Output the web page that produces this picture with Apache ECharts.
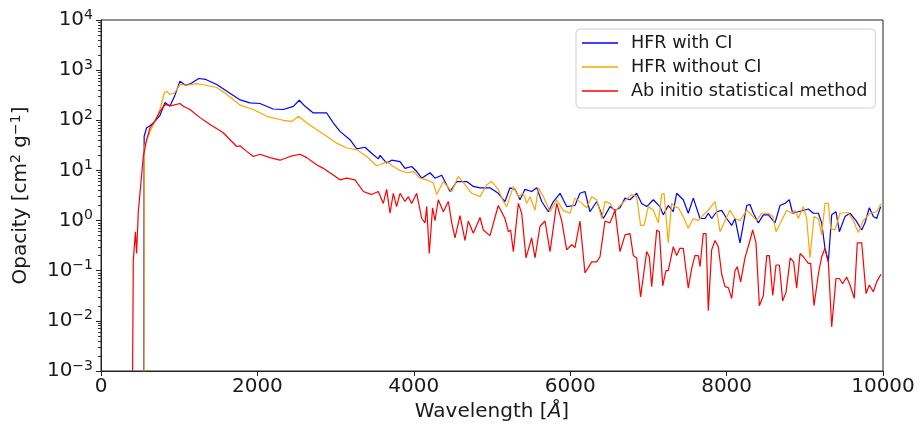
<!DOCTYPE html>
<html><head><meta charset="utf-8">
<script src="https://cdn.jsdelivr.net/npm/echarts@6/dist/echarts.min.js"></script>
<style>html,body{margin:0;padding:0;background:#fff}#c{width:921px;height:438px}</style>
</head><body><div id="c"></div>
<script>
// ---- data (wavelength in Angstrom, opacity in cm^2/g) ----
const blueX = [545,552,584,627,690,754,818,840,880,940,1010,1035,1080,1150,1250,1340,1480,1610,1780,1905,2033,2200,2330,2460,2535,2610,2715,2886,2970,3056,3184,3270,3376,3460,3546,3568,3653,3717,3824,3887,3973,4037,4101,4207,4271,4357,4463,4549,4677,4761,4847,4974,5080,5166,5230,5294,5358,5422,5507,5572,5636,5720,5785,5870,5955,6061,6125,6189,6253,6339,6424,6509,6573,6637,6701,6765,6850,6914,6978,7063,7148,7190,7254,7318,7361,7446,7510,7574,7660,7724,7766,7809,7873,7937,8001,8065,8107,8171,8257,8299,8342,8406,8470,8534,8619,8683,8747,8802,8845,8917,8981,9045,9109,9173,9216,9258,9301,9344,9399,9442,9514,9578,9655,9728,9770,9825,9876,9919,9971];
const blueY = [0.0001,48,71,78,95,125,226,232,190,300,603,640,500,540,682,652,518,380,255,222,216,168,164,190,251,190,140,140,89,60,41,27,29,22,17,20,14,16,15,11,12,9.5,7,9,7,8,3.8,6,6,4.8,4.5,4.5,3.5,2.4,4.5,4.2,2.6,4.2,3.8,4.5,2.4,1.5,2.4,3.5,1.9,2,3.5,3.8,1.5,2.4,1.1,1.9,1.6,1.8,2.8,2.6,3.5,2.2,1.9,2.6,1.9,1.3,2,1.5,3.5,2.6,1.4,2.8,1.1,1.1,1.4,1.1,1.5,1.6,1.1,0.8,1.1,0.36,2,2.1,1.4,0.9,1.3,1.3,0.9,2,2.2,2.6,1.4,1.5,1.6,1.7,1.4,1.4,0.9,0.28,0.15,1.3,1.5,0.6,1.2,1.4,1.0,0.65,0.9,1.8,1.2,1.1,1.9];

const orangeX = [548,555,627,690,754,810,840,880,940,1010,1095,1220,1340,1480,1610,1780,1948,2120,2330,2440,2525,2630,2760,2886,3014,3142,3270,3398,3525,3568,3653,3738,3824,3909,3994,4079,4165,4250,4293,4378,4485,4569,4655,4740,4847,4932,4996,5080,5145,5188,5273,5337,5400,5443,5486,5550,5593,5657,5742,5827,5912,5997,6061,6147,6211,6275,6339,6403,6445,6509,6573,6637,6701,6786,6850,6900,6944,6999,7063,7127,7170,7200,7254,7297,7340,7382,7446,7510,7574,7638,7702,7766,7852,7916,7980,8043,8107,8171,8257,8299,8385,8449,8534,8590,8632,8704,8768,8832,8874,8917,8981,9024,9066,9118,9173,9216,9258,9301,9331,9386,9450,9556,9620,9684,9748,9834,9919,9974];
const orangeY = [0.0001,30,60,95,164,358,380,326,350,518,500,540,500,450,326,200,164,120,100,95,120,89,65,48,35,28,26,19,12.4,13,15,12,10,9,9.5,7,6.5,5.6,3.3,6,3.8,7.6,5.2,3.5,3,5.2,6,4.2,2.4,1.9,4.8,3,3.5,2.2,3,1.6,4.5,3,1.5,2.6,1.6,1.4,2.8,2.2,1.8,3,2.6,1.1,2.4,2.2,1.5,2.0,2.5,3.3,3,0.8,0.8,1.9,1.6,0.9,3.3,3.5,0.36,2.2,1.9,1.8,1.2,0.7,1.1,1.0,1.3,1.6,2.4,0.6,1.0,1.6,1.1,1.0,1.6,1.4,1.0,1.4,1.4,1.2,0.6,1.0,1.6,1.4,1.6,1.1,1.9,1.1,0.18,1.2,1.1,0.52,2.2,2.2,0.7,0.65,1.4,1.45,1.0,0.58,1.0,1.4,1.5,2.2];

const redX = [400,413,440,455,477,499,541,584,627,690,754,818,840,904,1010,1053,1138,1266,1394,1560,1735,1777,1863,1948,2033,2161,2289,2417,2545,2630,2758,2843,2970,3056,3142,3248,3355,3460,3546,3610,3653,3696,3738,3780,3824,3887,3930,3973,4037,4101,4143,4165,4198,4240,4271,4313,4378,4442,4485,4527,4591,4655,4697,4761,4847,4889,4974,5080,5102,5166,5209,5238,5273,5337,5380,5435,5507,5550,5614,5678,5742,5827,5891,5955,6019,6061,6125,6189,6275,6339,6381,6445,6509,6573,6637,6701,6765,6807,6850,6900,6978,7012,7042,7106,7140,7183,7225,7254,7318,7361,7404,7446,7510,7553,7595,7638,7660,7702,7737,7766,7809,7852,7894,7937,7980,8022,8065,8107,8136,8180,8235,8299,8334,8376,8419,8470,8513,8547,8590,8632,8675,8717,8760,8814,8857,8896,8939,8981,9045,9075,9118,9173,9216,9258,9301,9344,9399,9442,9484,9535,9578,9633,9671,9728,9783,9825,9876,9919,9974];
const redY = [0.0001,0.16,0.6,0.22,1.5,3.6,19,41,71,97,150,206,222,196,216,190,164,113,82,57,30,31,24,19,21,18,16,19,21,18,13,11,8.1,6.5,7,6.5,3.8,3.3,3.8,2.2,4.2,1.4,3.5,1.9,3.5,2.4,3,2.2,3.5,1.1,0.9,1.9,0.22,1.8,1.0,2.6,1.5,2.4,0.9,0.45,1.25,0.4,0.98,0.56,1.15,0.65,0.5,2,1.9,1.1,0.6,0.65,0.24,2.2,1.4,0.18,0.45,0.18,0.77,0.98,0.24,2.2,1.0,0.26,0.33,0.29,0.98,0.09,0.15,0.15,0.19,0.98,0.9,1.6,0.24,0.52,0.55,0.2,0.18,0.03,0.24,0.19,0.048,0.65,0.6,0.05,0.1,0.1,0.3,0.2,0.28,0.28,0.045,0.11,0.2,0.2,0.12,0.55,0.55,0.016,0.26,0.4,0.3,0.085,0.048,0.046,0.028,0.1,0.12,0.06,0.18,0.4,0.65,0.36,0.02,0.032,0.2,0.2,0.032,0.13,0.13,0.025,0.037,0.18,0.15,0.045,0.22,0.19,0.14,0.14,0.02,0.085,0.19,0.28,0.15,0.0076,0.07,0.07,0.055,0.075,0.052,0.028,0.36,0.36,0.035,0.052,0.038,0.06,0.085];

const seriesNames = ['HFR with CI', 'HFR without CI', 'Ab initio statistical method'];
const xTicks = [0, 2000, 4000, 6000, 8000, 10000];
const yMajorTicks = [0.001, 0.01, 0.1, 1, 10, 100, 1000, 10000];

// ---- chart ----
const FONT = 'DejaVu Sans';
// minor tick positions (decade exponents) for a helper linear axis spanning -3..4
const yMinorExp = [];
for (let e = -3; e < 4; e++) for (let m = 2; m <= 9; m++) yMinorExp.push(e + Math.log10(m));
const pairs = (xs, ys) => xs.map((x, i) => [x, ys[i]]);

const chart = echarts.init(document.getElementById('c'), null, {renderer: 'canvas'});
const txt = '#1a1a1a';
chart.setOption({
  animation: false,
  backgroundColor: '#fff',
  grid: {left: 101, right: 38, top: 20, bottom: 67, show: true, borderColor: '#222', borderWidth: 1, backgroundColor: 'transparent'},
  legend: {
    orient: 'vertical', left: 576, top: 29,
    data: seriesNames,
    icon: 'rect', itemWidth: 36, itemHeight: 1.6, itemGap: 4,
    padding: [4, 8, 7, 6],
    borderColor: '#d0d0d0', borderWidth: 1, borderRadius: 4,
    textStyle: {fontFamily: FONT, fontSize: 17.6, color: txt, lineHeight: 20, padding: [0, 0, 0, 8]}
  },
  xAxis: {
    type: 'value', min: 0, max: 10000, interval: 2000,
    name: 'Wavelength [{i|Å}]', nameLocation: 'middle', nameGap: 31,
    nameTextStyle: {fontFamily: FONT, fontSize: 20, color: txt, rich: {i: {fontFamily: FONT, fontSize: 20, fontStyle: 'italic', color: txt}}},
    axisLine: {onZero: false, lineStyle: {color: '#222', width: 1}},
    axisTick: {length: 5, lineStyle: {color: '#222'}},
    axisLabel: {fontFamily: FONT, fontSize: 20, color: txt, margin: 6, formatter: v => String(v), customValues: xTicks},
    splitLine: {show: false}
  },
  yAxis: [{
    type: 'log', logBase: 10, min: 0.001, max: 10000,
    name: '{a|Opacity [cm}{s|2}{a| g}{s|−1}{a|]}', nameLocation: 'middle', nameGap: 68,
    nameTextStyle: {fontFamily: FONT, fontSize: 20, color: txt, rich: {
      a: {fontFamily: FONT, fontSize: 20, color: txt},
      s: {fontFamily: FONT, fontSize: 14, color: txt, padding: [0, 0, 10, 0]}
    }},
    axisLine: {show: true, onZero: false, lineStyle: {color: '#222', width: 1}},
    axisTick: {length: 5, lineStyle: {color: '#222'}, customValues: yMajorTicks},
    axisLabel: {
      margin: 8, customValues: yMajorTicks,
      formatter: v => { const e = Math.round(Math.log10(v)); return '{b|10}{s|' + (e < 0 ? '−' + (-e) : e) + '}'; },
      rich: {
        b: {fontFamily: FONT, fontSize: 20, color: txt},
        s: {fontFamily: FONT, fontSize: 14, color: txt, padding: [0, 0, 10, 0]}
      }
    },
    splitLine: {show: false}
  }, {
    type: 'value', min: -3, max: 4, position: 'left', offset: 0,
    axisLine: {show: false, onZero: false},
    axisTick: {show: true, length: 3, lineStyle: {color: '#333'}, customValues: yMinorExp},
    axisLabel: {show: false},
    splitLine: {show: false}
  }],
  series: [
    {name: seriesNames[0], type: 'line', data: pairs(blueX, blueY), showSymbol: false, symbol: 'none', clip: true, lineStyle: {color: '#0000ff', width: 1.2}, itemStyle: {color: '#0000ff'}, z: 3},
    {name: seriesNames[1], type: 'line', data: pairs(orangeX, orangeY), showSymbol: false, symbol: 'none', clip: true, lineStyle: {color: '#ffa500', width: 1.2}, itemStyle: {color: '#ffa500'}, z: 4},
    {name: seriesNames[2], type: 'line', data: pairs(redX, redY), showSymbol: false, symbol: 'none', clip: true, lineStyle: {color: '#ff0000', width: 1.2}, itemStyle: {color: '#ff0000'}, z: 5}
  ]
});
</script></body></html>
